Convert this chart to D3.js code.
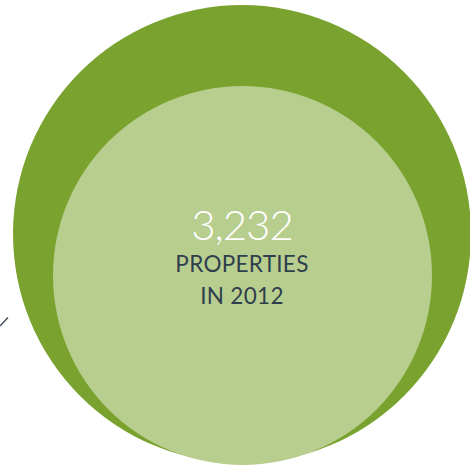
<!DOCTYPE html>
<html>
<head>
<meta charset="utf-8">
<script src="https://cdn.jsdelivr.net/npm/d3@7"></script>
<style>
  html, body { margin: 0; padding: 0; background: #fff; }
  svg { display: block; }
</style>
</head>
<body>
<div id="chart"></div>
<script>
const width = 470, height = 466;

// values (inner one is labelled)
const circleNames = ["total", "2012"];
const circleValues = [4720, 3232];
const circleColors = ["#7aa22f", "#b8ce8f"];
const valueLabel = "3,232";
const captionLines = ["PROPERTIES", "IN 2012"];

const svg = d3.select("#chart")
    .append("svg")
    .attr("width", width)
    .attr("height", height);

const rScale = d3.scaleSqrt()
    .domain([0, d3.max(circleValues)])
    .range([0, 229]);

// both circles sit near the bottom edge
const centers = [{ x: 242, y: 234 }, { x: 242.5, y: 275.5 }];

svg.selectAll("circle")
    .data(circleValues)
    .join("circle")
    .attr("cx", (d, i) => centers[i].x)
    .attr("cy", (d, i) => centers[i].y)
    .attr("r", d => rScale(d))
    .attr("fill", (d, i) => circleColors[i]);

// little leader line on the left
svg.append("line")
    .attr("x1", 0).attr("y1", 326)
    .attr("x2", 8).attr("y2", 317.5)
    .attr("stroke", "#3b4b5b")
    .attr("stroke-width", 1.3);

svg.append("text")
    .attr("x", 242)
    .attr("y", 240)
    .attr("text-anchor", "middle")
    .attr("font-family", "Lato, sans-serif")
    .attr("font-weight", 300)
    .attr("font-size", 42)
    .attr("letter-spacing", -1)
    .attr("fill", "#fff")
    .text(valueLabel);

svg.selectAll("text.cap")
    .data(captionLines)
    .join("text")
    .attr("class", "cap")
    .attr("x", 242)
    .attr("y", (d, i) => 272 + i * 32)
    .attr("text-anchor", "middle")
    .attr("font-family", "Lato, sans-serif")
    .attr("font-weight", 400)
    .attr("font-size", 22.5)
    .attr("letter-spacing", 0.3)
    .attr("fill", "#2f3e4c")
    .text(d => d);
</script>
</body>
</html>
